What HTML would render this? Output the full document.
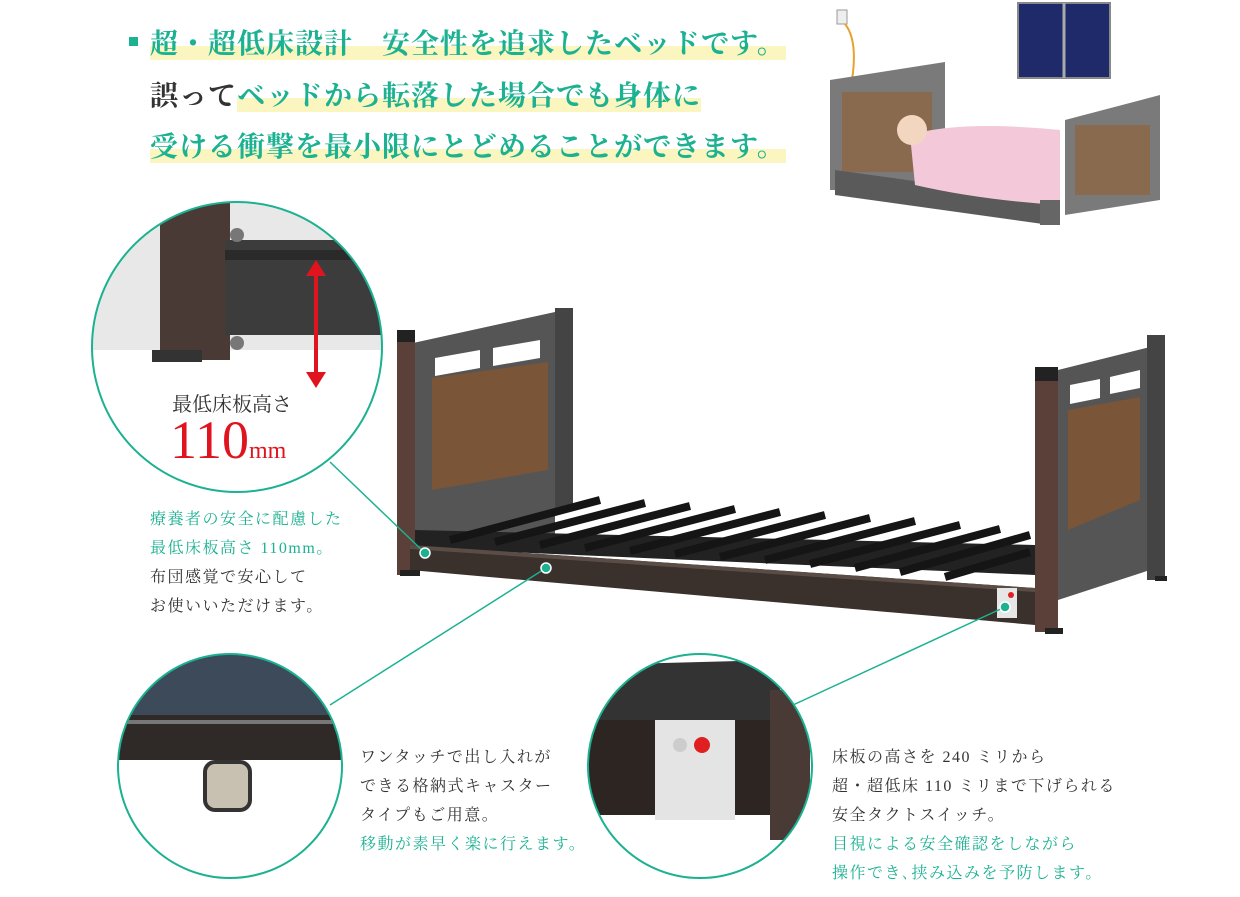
<!DOCTYPE html>
<html><head><meta charset="utf-8"><style>
body{margin:0;width:1240px;height:897px;background:#fff;position:relative;overflow:hidden;font-family:"Liberation Serif","Noto Serif CJK JP",serif}
.h{position:absolute;font-size:28px;font-weight:bold;letter-spacing:1px;color:#1bb191;white-space:nowrap;line-height:34px}
.hl{background:linear-gradient(to bottom,transparent 55%,#fbf5c0 55%)}
.t{position:absolute;font-size:16px;letter-spacing:1.5px;line-height:29px;color:#333;white-space:nowrap}
.g{color:#1bb191}
</style></head><body>
<div style="position:absolute;left:129px;top:37px;width:9px;height:9px;background:#1bb191"></div>
<div class="h" style="left:150px;top:28px"><span class="hl">超・超低床設計　安全性を追求したベッドです。</span></div>
<div class="h" style="left:150px;top:80px"><span style="color:#333">誤って</span><span class="hl">ベッドから転落した場合でも身体に</span></div>
<div class="h" style="left:150px;top:131px"><span class="hl">受ける衝撃を最小限にとどめることができます。</span></div>

<svg width="1240" height="897" style="position:absolute;left:0;top:0">
<rect x="1018" y="3" width="92" height="75" fill="#1f2a6b" stroke="#888" stroke-width="2"/>
<line x1="1064" y1="3" x2="1064" y2="78" stroke="#aaa" stroke-width="3"/>
<rect x="837" y="10" width="10" height="14" fill="#eee" stroke="#999"/>
<path d="M845 24 Q858 40 852 80 L852 160 Q855 170 875 165" stroke="#e9a030" stroke-width="2" fill="none"/>
<polygon points="830,80 945,62 945,190 830,190" fill="#7a7a7a"/>
<rect x="842" y="92" width="90" height="80" fill="#8a6a4e"/>
<polygon points="1065,120 1160,95 1160,200 1065,215" fill="#7a7a7a"/>
<rect x="1075" y="125" width="75" height="70" fill="#8a6a4e"/>
<polygon points="835,170 1050,200 1050,225 835,195" fill="#5a5a5a"/>
<path d="M910 135 Q960 120 1060 130 L1060 205 Q980 200 915 185 Z" fill="#f3c9da"/>
<circle cx="912" cy="130" r="15" fill="#f2d6c0"/>
<rect x="1040" y="200" width="20" height="25" fill="#666"/>
<clipPath id="c1"><circle cx="237" cy="347" r="145"/></clipPath>
<g clip-path="url(#c1)">
<rect x="90" y="200" width="300" height="300" fill="#fff"/>
<rect x="90" y="200" width="300" height="150" fill="#e8e8e8"/>
<rect x="160" y="200" width="70" height="160" fill="#4a3a35"/>
<rect x="225" y="240" width="170" height="95" fill="#3c3c3c"/>
<rect x="225" y="250" width="170" height="10" fill="#2a2a2a"/>
<rect x="152" y="350" width="50" height="12" fill="#333"/>
<circle cx="237" cy="235" r="7" fill="#777"/><circle cx="237" cy="343" r="7" fill="#777"/>
</g>
<circle cx="237" cy="347" r="145" fill="none" stroke="#1bb191" stroke-width="2"/>
<line x1="316" y1="270" x2="316" y2="378" stroke="#e0141e" stroke-width="4"/>
<polygon points="306,276 316,260 326,276" fill="#e0141e"/><polygon points="306,372 316,388 326,372" fill="#e0141e"/>
<polygon points="413,343 555,312 555,545 413,545" fill="#555"/>
<polygon points="432,378 548,362 548,470 432,490" fill="#7a5538"/>
<polygon points="435,358 480,350 480,368 435,376" fill="#fff"/><polygon points="493,348 540,340 540,358 493,366" fill="#fff"/>
<rect x="397" y="333" width="18" height="242" fill="#5a4038"/><rect x="397" y="330" width="18" height="12" fill="#222"/>
<rect x="555" y="308" width="18" height="200" fill="#444"/>
<polygon points="415,530 1035,545 1035,575 415,548" fill="#222"/>
<g stroke="#151515" stroke-width="8">
<line x1="450" y1="540" x2="600" y2="500"/><line x1="495" y1="542" x2="645" y2="503"/><line x1="540" y1="545" x2="690" y2="506"/><line x1="585" y1="548" x2="735" y2="509"/><line x1="630" y1="551" x2="780" y2="512"/><line x1="675" y1="554" x2="825" y2="515"/><line x1="720" y1="557" x2="870" y2="518"/><line x1="765" y1="560" x2="915" y2="521"/><line x1="810" y1="564" x2="960" y2="525"/><line x1="855" y1="568" x2="1000" y2="529"/><line x1="900" y1="572" x2="1030" y2="535"/><line x1="945" y1="577" x2="1030" y2="552"/>
</g>
<polygon points="410,545 1035,588 1035,625 410,570" fill="#3a302c"/>
<polygon points="410,545 1035,588 1035,592 410,549" fill="#5a4d46"/>
<rect x="400" y="570" width="20" height="6" fill="#222"/>
<polygon points="1058,370 1150,347 1150,570 1058,600" fill="#555"/>
<polygon points="1068,410 1140,397 1140,500 1068,530" fill="#7a5538"/>
<polygon points="1070,385 1100,379 1100,398 1070,404" fill="#fff"/><polygon points="1110,377 1140,370 1140,388 1110,394" fill="#fff"/>
<rect x="1035" y="370" width="23" height="262" fill="#5a4038"/><rect x="1035" y="367" width="23" height="14" fill="#222"/>
<rect x="1147" y="335" width="18" height="245" fill="#444"/>
<rect x="1045" y="628" width="18" height="6" fill="#222"/><rect x="1155" y="576" width="12" height="5" fill="#222"/>
<rect x="997" y="588" width="20" height="30" fill="#e6e6e6"/><circle cx="1011" cy="595" r="3" fill="#e02020"/>
<g stroke="#1bb191" stroke-width="1.5"><line x1="330" y1="462" x2="425" y2="553"/><line x1="330" y1="705" x2="546" y2="568"/><line x1="793" y1="705" x2="1005" y2="607"/></g>
<g fill="#1bb191" stroke="#fff" stroke-width="1.5"><circle cx="425" cy="553" r="5"/><circle cx="546" cy="568" r="5"/><circle cx="1005" cy="607" r="5"/></g>
<clipPath id="c2"><circle cx="230" cy="766" r="112"/></clipPath>
<g clip-path="url(#c2)">
<rect x="110" y="650" width="240" height="240" fill="#fff"/>
<rect x="110" y="650" width="240" height="70" fill="#3d4a5a"/>
<rect x="110" y="715" width="240" height="45" fill="#2f2a28"/>
<rect x="110" y="720" width="240" height="4" fill="#777"/>
<rect x="205" y="762" width="45" height="48" rx="10" fill="#c8c0b0" stroke="#333" stroke-width="4"/>
</g>
<circle cx="230" cy="766" r="112" fill="none" stroke="#1bb191" stroke-width="2"/>
<clipPath id="c3"><circle cx="700" cy="766" r="112"/></clipPath>
<g clip-path="url(#c3)">
<rect x="585" y="650" width="235" height="235" fill="#fff"/>
<polygon points="585,665 780,660 780,720 585,730" fill="#333"/>
<rect x="585" y="720" width="190" height="95" fill="#2c2522"/>
<rect x="770" y="690" width="40" height="150" fill="#4a3a35"/>
<rect x="655" y="720" width="80" height="100" fill="#e4e4e4"/>
<circle cx="680" cy="745" r="7" fill="#ccc"/><circle cx="702" cy="745" r="8" fill="#e02020"/>
</g>
<circle cx="700" cy="766" r="112" fill="none" stroke="#1bb191" stroke-width="2"/>
</svg>

<div style="position:absolute;left:172px;top:388px;font-size:20px;color:#333">最低床板高さ</div>
<div style="position:absolute;left:170px;top:410px;font-size:54px;color:#e0141e;line-height:60px">110<span style="font-size:24px">mm</span></div>
<div class="t" style="left:150px;top:505px"><span class="g">療養者の安全に配慮した<br>最低床板高さ 110mm。</span><br>布団感覚で安心して<br>お使いいただけます。</div>
<div class="t" style="left:360px;top:743px">ワンタッチで出し入れが<br>できる格納式キャスター<br>タイプもご用意。<br><span class="g">移動が素早く楽に行えます。</span></div>
<div class="t" style="left:832px;top:743px">床板の高さを 240 ミリから<br>超・超低床 110 ミリまで下げられる<br>安全タクトスイッチ。<br><span class="g">目視による安全確認をしながら<br>操作でき､挟み込みを予防します。</span></div>
</body></html>
